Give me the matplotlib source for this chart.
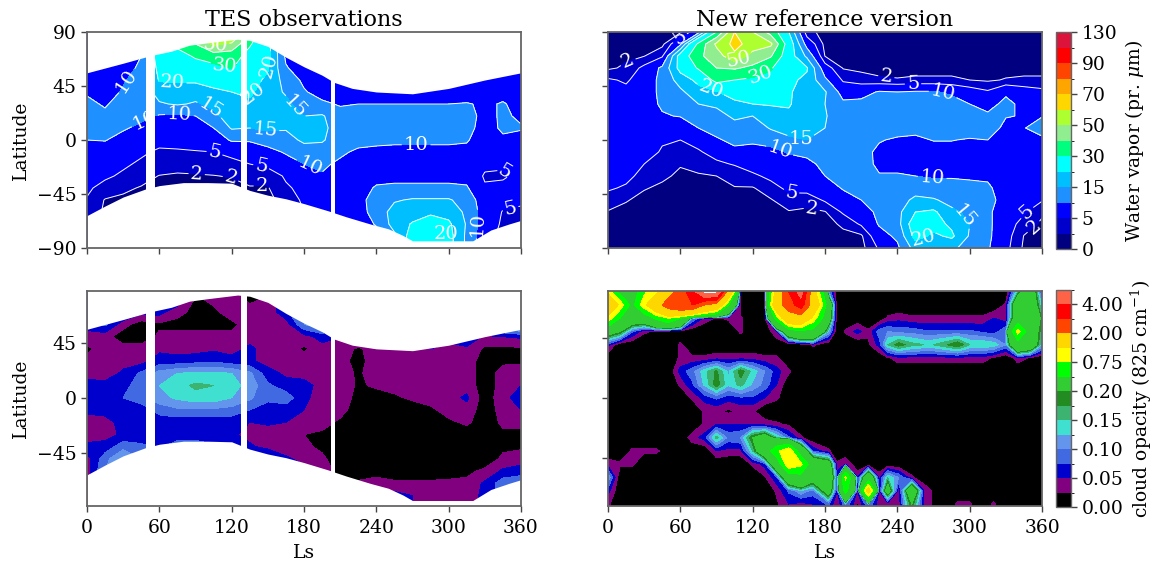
import matplotlib
matplotlib.use('Agg')
import matplotlib.pyplot as plt
from matplotlib.colors import BoundaryNorm, ListedColormap
import numpy as np

plt.rcParams['font.family'] = ['DejaVu Serif']
plt.rcParams['mathtext.fontset'] = 'dejavuserif'

wv_levels = [0, 2, 5, 10, 15, 20, 30, 40, 50, 60, 70, 80, 90, 110, 130]
wv_colors = ['navy', 'mediumblue', 'blue', 'dodgerblue', 'deepskyblue', 'cyan', 'springgreen',
             'lightgreen', 'greenyellow', 'gold', 'orange', 'orangered', 'red', 'crimson']
wv_ticks = [0, 5, 15, 30, 50, 70, 90, 130]

cl_levels = [0, 0.025, 0.05, 0.075, 0.10, 0.125, 0.15, 0.175, 0.20, 0.5, 0.75, 1.0, 2.0, 3.0, 4.0, 5.0]
cl_colors = ['black', 'purple', 'mediumblue', 'royalblue', 'cornflowerblue', 'turquoise', 'mediumseagreen',
             'forestgreen', 'limegreen', 'lime', 'yellow', 'gold', 'orangered', 'red', 'tomato']
cl_ticks = [0, 0.05, 0.10, 0.15, 0.20, 0.75, 2.0, 4.0]

lat = [90, 80, 70, 60, 50, 40, 30, 20, 10, 0, -10, -20, -30, -40, -50, -60, -70, -80, -90]
ls = [0, 15, 30, 45, 60, 75, 90, 105, 120, 135, 150, 165, 180, 195, 210, 225, 240, 255, 270, 285, 300, 315, 330, 345, 360]

# TES coverage limits and orbit gaps
north_ls = [0, 15, 30, 48, 56, 70, 85, 100, 125, 135, 150, 165, 180, 195, 205, 220, 240, 270, 300, 330, 360]
north_lat = [56, 60, 64, 69, 71, 74, 79, 81, 84, 83, 78, 69, 61, 54, 48, 43, 40, 38.5, 43, 50, 56]
south_ls = [0, 15, 30, 48, 60, 80, 100, 120, 125, 135, 150, 165, 180, 200, 215, 235, 250, 262, 270, 320, 335, 350, 360]
south_lat = [-63, -55, -47.5, -41, -38, -35.5, -35.5, -36, -38, -42, -46, -49, -53, -59, -64, -70, -74, -79.5, -84, -84, -75, -70, -67]
gaps = [(48.7, 56.4), (127.6, 133), (202.3, 206)]

# one list per Ls, latitude from north to south
tes_wv = [
    [6, 6, 6, 6, 7, 9.5, 11, 12, 12, 10, 8, 7, 6, 5.5, 4.8, 4, 3, 3, 3],
    [6, 6, 6, 7, 8, 8, 9.5, 11, 12, 10.2, 8, 6.5, 5.5, 4, 1.8, 1.5, 1.5, 1.5, 1.5],
    [8, 8, 8, 8, 9.5, 10.5, 12, 12, 10.5, 8.5, 7, 5.5, 4.5, 2.5, 1.5, 1, 1, 1, 1],
    [10, 10, 10, 11, 12, 12, 13, 11, 9, 8, 5.5, 4.5, 3, 1.8, 1, 1, 1, 1, 1],
    [25, 25, 24, 22, 20.5, 17, 14.5, 9.5, 8, 6, 4.5, 3.5, 1.9, 1, 1, 1, 1, 1, 1],
    [45, 34, 24, 22, 21, 17, 15.5, 9, 8, 6.5, 4.5, 2.6, 1.8, 1, 1, 1, 1, 1, 1],
    [60, 40, 32, 23, 21, 17, 14.5, 10, 8.5, 6.5, 4.8, 3, 1.8, 1, 1, 1, 1, 1, 1],
    [75, 52, 35, 27, 22, 19, 16, 14, 10, 7.5, 5, 3.5, 1.9, 1, 1, 1, 1, 1, 1],
    [70, 48, 34, 30.5, 24, 20, 19, 17, 15.5, 10.5, 6, 4, 2.2, 1, 1, 1, 1, 1, 1],
    [40, 31, 27, 24, 22, 21, 19, 15.5, 15, 10.5, 7, 5, 3, 1.8, 1, 1, 1, 1, 1],
    [20, 22, 22, 20.5, 19, 17, 16.5, 17, 16, 12, 8.5, 6, 3, 1.8, 1, 1, 1, 1, 1],
    [8, 8, 9, 10.5, 13, 14.5, 16, 16, 15.5, 13, 10.5, 8, 5.5, 4.5, 3.5, 3, 3, 3, 3],
    [5, 5, 5.5, 7, 9, 10.5, 13, 15, 17, 16, 12.5, 10, 7.5, 6, 5.5, 5, 5, 5, 5],
    [6, 6, 6, 6, 6.5, 8, 11, 15.5, 16, 15.5, 13, 11, 9.5, 7, 6.5, 6, 6, 6, 6],
    [5.5, 5.5, 5.5, 5.5, 5.5, 7, 9.5, 12, 13, 12.5, 11, 9, 7, 7, 7, 6.5, 6, 6, 6],
    [6.5, 6.5, 6.5, 6.5, 6.5, 6.5, 10, 13, 13.5, 12, 9, 7.5, 7, 8, 8.5, 8, 7, 7, 7],
    [6, 6, 6, 6, 6, 6, 10, 13, 13.5, 11.5, 8.5, 7.5, 8.5, 10.5, 12, 12, 10.5, 8, 8],
    [6, 6, 6, 6, 6, 6, 10, 13, 13.5, 11, 8.5, 7.5, 8.5, 11, 14.5, 17, 17, 14, 14],
    [6, 6, 6, 6, 6, 6, 10, 13, 13.5, 11, 8.5, 7.5, 8.5, 11, 15.5, 17.5, 20.5, 23, 23],
    [6, 6, 6, 6, 6, 6, 10, 13, 13.5, 11, 8.5, 7.5, 8.5, 11, 15.5, 19, 23, 24, 24],
    [6, 6, 6, 6, 6, 6, 10, 13, 13.5, 11, 8.5, 7.5, 8.5, 11, 15.5, 18, 21, 22, 22],
    [6, 6, 6, 6, 6, 6, 10.5, 12.5, 12, 10.5, 8.5, 7, 8.5, 10.5, 13, 14, 14.5, 14, 14],
    [7, 7, 7, 7, 7, 7.5, 9, 8, 7.5, 7, 6.5, 6, 4.5, 5.5, 7, 7.5, 7, 6.5, 6.5],
    [7, 7, 7, 7, 7, 8, 10.5, 11, 11, 9, 7, 5.5, 4.5, 6, 6, 4.8, 4.5, 4, 4],
    [7, 7, 7, 7, 7, 8, 8, 9, 10.5, 8, 7.5, 6.5, 6, 5.5, 5.5, 4.5, 3.5, 3, 3],
]

new_wv = [
    [.5, .5, .7, 1.5, 5.5, 7, 7.5, 8, 8, 8, 8, 7.5, 7, 5.5, 3.5, 1.8, 1, .8, .7],
    [.5, .7, 1.5, 2.5, 4.5, 6, 7, 7.5, 7.5, 7.5, 7, 6.5, 6, 4.5, 2.2, 1.2, .8, .7, .7],
    [.7, 1, 1.9, 6, 7, 8, 8.5, 8.5, 8, 7.5, 7, 5, 3.8, 2.2, 1.2, .8, .7, .7, .7],
    [.8, 1.2, 4.5, 11, 11.5, 11, 10.5, 9.7, 8, 5.5, 4.5, 3.5, 2.5, 1.5, 1, .8, .7, .7, .7],
    [1.5, 9, 23, 22, 17, 14, 12.5, 10.2, 7.5, 5, 3.8, 2.2, 1.5, 1, .8, .7, .7, .7, .7],
    [8, 32, 38, 31, 21.5, 18, 15, 12, 10, 6, 4.7, 3, 1.7, 1, .8, .7, .7, .7, .7],
    [30, 52, 45, 40, 33, 19.5, 16, 13, 11.5, 9.5, 6, 4.5, 2, 1, .8, .7, .7, .7, .7],
    [60, 63, 58, 41, 30, 24, 18, 16, 13, 11, 9, 5.2, 3.5, 1.8, 1, .8, .7, .7, .7],
    [50, 56, 46, 38, 28, 23, 20, 15, 12.5, 10.5, 9, 7, 4.2, 1.8, 1, .8, .7, .7, .7],
    [36, 52, 41, 31, 27, 23, 20.5, 17, 15.4, 12, 8.5, 7, 6, 3.5, 1.8, 1, .8, .7, .7],
    [20, 24, 23, 21.5, 21, 20.5, 20.5, 19, 16, 14.5, 10.5, 7.5, 6.5, 6, 3.5, 1.8, 1, .8, .7],
    [3, 8, 14, 20.5, 19, 18, 17, 16, 16, 15, 11, 9, 7.5, 6.5, 3, 1.5, 1, .8, .7],
    [1, 1.2, 1.9, 7, 11, 15.5, 15, 15.2, 15, 14, 12, 11, 10, 7, 5.5, 1.8, 1, .8, .7],
    [.7, .7, .8, 1.8, 4.5, 8, 11, 13.5, 14.5, 14, 13, 12.5, 12, 10.5, 7.5, 5.5, 2.5, 1.3, 1],
    [.6, .6, .7, 1.2, 3.5, 8, 11.5, 13, 13.5, 12, 12.5, 13, 12.5, 11.5, 10, 8, 5.5, 1.5, 1],
    [.6, .6, .7, 1, 2.5, 10.5, 13, 13.5, 12.5, 10.5, 8.5, 8.5, 10.5, 11.5, 12, 11, 10.5, 8, 5.5],
    [.6, .6, .7, 1, 2.2, 10, 12.5, 14, 13, 9, 8, 8.5, 10.5, 12, 13, 13.5, 13, 11, 9],
    [.6, .6, .7, 1, 2.5, 10.5, 13, 13.5, 11.5, 9, 8, 8, 10, 13, 16, 20, 24, 22, 17],
    [.6, .6, .7, 1, 2.5, 10.5, 13, 13, 11, 10.2, 8, 8, 9.5, 12, 15.5, 21, 22, 19, 15],
    [.6, .6, .7, 1, 2.5, 9, 12.5, 13, 11.5, 10.2, 8, 7.5, 9.5, 12, 13.5, 16, 19, 21, 16],
    [.6, .6, .7, 1, 2, 7, 10, 13, 13, 9.5, 8, 7.5, 9, 12, 13, 14, 15, 14.5, 13],
    [.6, .6, .7, 1, 1.6, 5.5, 8, 11, 12, 10, 8, 7.5, 9, 11, 12.5, 11, 11, 11, 10.5],
    [.6, .6, .7, 1, 2.2, 9, 11.5, 10.2, 9, 8, 7.5, 7, 7, 7, 7, 7, 7, 6.5, 6],
    [.6, .6, .7, 1, 2.5, 7, 8.5, 9.8, 9.8, 8, 7.5, 7, 7, 6.5, 6, 5.5, 3.5, 1.9, 1.5],
    [.6, .6, .7, 1, 2.5, 6, 8, 9.8, 12, 9, 8, 7.5, 7, 6.5, 5.3, 2.5, 1.5, 1, .8],
]

tes_cl = [
    [.06, .06, .06, .06, .04, .02, .03, .04, .06, .065, .06, .03, .03, .06, .04, .04, .04, .04, .04],
    [.08, .08, .08, .08, .035, .035, .035, .035, .06, .065, .06, .04, .04, .06, .09, .1, .1, .1, .1],
    [.08, .08, .08, .035, .01, .035, .04, .055, .065, .075, .06, .06, .055, .09, .13, .13, .13, .13, .13],
    [.06, .06, .06, .01, .01, .035, .04, .08, .09, .09, .06, .055, .06, .08, .1, .1, .1, .1, .1],
    [.1, .1, .06, .02, .03, .045, .06, .11, .125, .115, .085, .06, .055, .07, .1, .1, .1, .1, .1],
    [.1, .07, .03, .02, .03, .04, .06, .125, .14, .13, .095, .06, .06, .09, .1, .1, .1, .1, .1],
    [.03, .02, .02, .02, .03, .04, .065, .13, .155, .14, .095, .06, .06, .09, .1, .1, .1, .1, .1],
    [.05, .03, .02, .02, .03, .045, .07, .13, .15, .14, .095, .06, .06, .08, .1, .1, .1, .1, .1],
    [.04, .04, .035, .02, .03, .04, .06, .125, .135, .125, .09, .06, .055, .06, .1, .1, .1, .1, .1],
    [.02, .02, .035, .035, .04, .055, .055, .105, .115, .105, .075, .05, .04, .055, .1, .1, .1, .1, .1],
    [.03, .03, .03, .035, .03, .04, .04, .06, .08, .08, .065, .055, .035, .04, .09, .09, .09, .09, .09],
    [.07, .07, .07, .035, .04, .04, .035, .045, .06, .09, .06, .05, .035, .035, .055, .055, .055, .055, .055],
    [.1, .1, .1, .1, .04, .02, .04, .04, .06, .055, .05, .035, .025, .03, .04, .06, .06, .06, .06],
    [.12, .12, .12, .12, .06, .04, .04, .04, .04, .04, .035, .035, .02, .02, .03, .05, .05, .05, .05],
    [.07, .07, .07, .07, .05, .04, .035, .04, .045, .05, .035, .02, .01, .01, .01, .01, .03, .03, .03],
    [.06, .06, .06, .06, .06, .02, .015, .02, .02, .01, .01, .01, .01, .01, .01, .01, .03, .05, .05],
    [.07, .07, .07, .07, .07, .04, .04, .04, .03, .01, .01, .01, .01, .01, .01, .01, .04, .06, .06],
    [.06, .06, .06, .06, .06, .04, .035, .035, .035, .02, .01, .01, .01, .01, .01, .01, .03, .06, .06],
    [.06, .06, .06, .06, .06, .05, .04, .04, .04, .03, .01, .01, .01, .01, .01, .01, .03, .05, .05],
    [.06, .06, .06, .06, .06, .05, .04, .04, .04, .035, .02, .01, .01, .01, .01, .01, .03, .035, .035],
    [.055, .055, .055, .055, .055, .045, .04, .04, .04, .04, .035, .02, .01, .01, .01, .015, .03, .04, .04],
    [.07, .07, .07, .07, .07, .045, .04, .04, .04, .055, .04, .03, .01, .01, .01, .02, .03, .04, .04],
    [.1, .1, .1, .1, .045, .02, .01, .01, .01, .01, .01, .01, .01, .01, .01, .03, .055, .055, .055],
    [.13, .13, .13, .13, .05, .02, .02, .035, .035, .04, .035, .03, .02, .02, .03, .055, .09, .09, .09],
    [.16, .16, .16, .16, .055, .02, .02, .04, .05, .065, .05, .03, .02, .02, .04, .06, .1, .1, .1],
]

# model cloud field: uneven Ls spacing for the narrow southern storms, one list per latitude
new_cl_ls = [0, 10, 20, 30, 40, 50, 60, 70, 80, 90, 100, 110, 120, 130, 140, 150, 160, 170, 183, 190, 197, 207, 216,
             225, 232, 241, 252, 262, 270, 280, 290, 300, 310, 320, 330, 340, 350, 360]
new_cl = [
    [.9, .4, .3, .7, .9, 1.5, 2.5, 3.5, 5.5, 5.5, 1.5, 0, 0, 0, 1.2, 3, 4.5, 1.2] + [.1] + [0] * 16 + [.15, .3, .05],
    [.9, .4, .3, .7, .9, 1.5, 2.5, 3.5, 5.5, 5.5, 1.5, 0, 0, 0, 1.2, 3, 4.5, 1.2] + [.1] + [0] * 16 + [.15, .3, .05],
    [1.5, .9, .4, .9, 1.5, 2.5, 3, 3, 2, 1.5, .5, 0, 0, 0, 1.5, 2.5, 3.5, 1.5] + [.3] + [0] * 15 + [.03, .3, .3, .12],
    [.9, .5, .3, .3, .55, .75, .5, .1, .04, .02, .03, .03, 0, 0, .6, 1.5, 1.5, .9, .25, 0, 0, 0, 0, 0, .03, .04, .03, .03,
     .03, .03, .03, .03, .03, .05, .03, .3, .5, .15],
    [.25, .2, .08, .03, .02, 0, 0, 0, 0, 0, 0, .03, 0, 0, .05, .3, .45, .4, .12, 0, .03, .06, .03, .09, .1, .09, .09, .08,
     .08, .08, .08, .08, .07, .06, .1, .85, .3, .15],
    [.06, 0, 0, 0, 0, 0, .03] + [0] * 10 + [.03] + [0, 0, 0, 0, .02, .06, .15, .19, .16, .15,
     .15, .17, .2, .15, .15, .14, .1, .35, .3, .12],
    [0] * 6 + [.03, .03, .03, .04, .04, .04, .04, .03, .03, 0, 0, 0] + [0, 0, 0, 0, 0, 0, .02, .04, .04, .04,
     .04, .04, .04, .04, .04, .02, 0, .04, .02, 0],
    [0] * 6 + [.06, .09, .14, .18, .12, .19, .14, .1, .06, .03, 0, 0] + [0] * 20,
    [0] * 6 + [.03, .07, .13, .19, .13, .16, .12, .09, .05, 0, 0, 0] + [0] * 20,
    [0] * 7 + [.03, .06, .08, .06, .07, .07, .05, .03, 0, 0, 0] + [0] * 20,
    [0] * 8 + [.03, .03, .02, .03, .03, 0, 0, 0, 0, 0] + [0] * 20,
    [0] * 8 + [.03, .05, .05, .05, .05, .04, .03, .02, 0, 0] + [0] * 20,
    [0] * 7 + [.04, .06, .16, .09, .1, .2, .25, .15, .08, .03, 0] + [0] * 20,
    [0, 0, .03, .03, .03, .01, 0, 0, 0, .05, .04, .04, .15, .3, .7, .95, .3, .07, .03] + [0] * 19,
    [.04, .03, .03] + [0] * 9 + [.03, .06, .3, .95, .8, .3, .25, .03, .05] + [0] * 17,
    [.12] + [0] * 12 + [.02, .07, .3, .4, .25, .3, .07, .8, .05, .3, .04, .15, .1, .03, 0] + [0] * 10,
    [.06] + [0] * 12 + [0, .03, .08, .12, .09, .25, .05, .6, .04, 1.2, .04, .25, .03, .3, .05, .02] + [0] * 9,
    [.03] + [0] * 13 + [.02, .05, .04, .05, .08, .02, .1, .02, .1, .03, .03, .03, .2, .04, .02, 0, .03, .03, 0, .03, 0, 0, 0, 0],
    [.03] + [0] * 13 + [.02, .05, .04, .05, .08, .02, .1, .02, .1, .03, .03, .03, .2, .04, .02, 0, .03, .03, 0, .03, 0, 0, 0, 0],
]

tes_labels = {
    2: [(91, -28), (120, -27), (145, -29)],
    5: [(107, -7), (145, -20), (188, 48), (348, -25), (351, -56)],
    10: [(32.6, 49.7), (43.7, 24.7), (77, 25), (185, -21), (273, -4.5), (323, -70)],
    15: [(103, 27.5), (147, 4), (170, 25)],
    20: [(71, 52.5), (152, 62), (138, 38.6)],
    30: [(114, 61)],
    50: [(107, 75)],
}
new_labels = {
    2: [(16.6, 65), (170, -52), (231, 54), (352, -71)],
    5: [(61, 83), (152, -38), (253, 47.5), (346, -59)],
    10: [(143, -7), (277, 36), (269, -31)],
    15: [(161, 4), (296, -63)],
    20: [(87, 47), (262, -83)],
    30: [(126, 55)],
    50: [(108, 68)],
}

W, H = 1157.0, 563.0


def make_axes(x0, x1, y0, y1):
    return fig.add_axes([x0 / W, 1 - y1 / H, (x1 - x0) / W, (y1 - y0) / H])


def style_axes(ax, ylim, yticks, xlabels):
    ax.set_xlim(0, 360)
    ax.set_ylim(*ylim)
    ax.set_xticks(np.arange(0, 361, 60))
    ax.set_yticks(yticks)
    if xlabels:
        ax.set_xlabel('Ls', fontsize=13.5, labelpad=5)
    else:
        ax.set_xticklabels([])
    ax.tick_params(labelsize=13.5, length=4, width=1, color='#444444')
    ax.tick_params(axis='x', pad=5.5)
    for s in ax.spines.values():
        s.set_color('#666666')
        s.set_linewidth(1.3)
        s.set_zorder(6)


def mask_coverage(ax):
    ax.fill_between(north_ls, north_lat, 100, color='white', lw=0, zorder=2.5)
    ax.fill_between(south_ls, south_lat, -100, color='white', lw=0, zorder=2.5)
    for g in gaps:
        ax.axvspan(g[0], g[1], color='white', lw=0, zorder=2.5)


def draw_lines(ax, x, y, z, labels):
    # one contour set per level, clabel with manual spots breaks on a subset of levels
    for lev in wv_levels[1:]:
        if np.max(z) < lev:
            continue
        cs = ax.contour(x, y, z, levels=[lev], colors='white', linewidths=0.7)
        if lev in labels:
            ax.clabel(cs, manual=labels[lev], fmt='%d', fontsize=14, colors='white', inline_spacing=2)


wv_cmap = ListedColormap(wv_colors)
wv_norm = BoundaryNorm(wv_levels, wv_cmap.N)
cl_cmap = ListedColormap(cl_colors)
cl_norm = BoundaryNorm(cl_levels, cl_cmap.N)

fig = plt.figure(figsize=(W / 100, H / 100), dpi=100)

ax1 = make_axes(87, 521, 32, 248)
ax2 = make_axes(608, 1042, 32, 248)
ax3 = make_axes(87, 521, 291, 506)
ax4 = make_axes(608, 1042, 291, 506)
cax1 = make_axes(1056, 1071, 32, 249)
cax2 = make_axes(1056, 1071, 290, 507)

style_axes(ax1, (-90, 90), [-90, -45, 0, 45, 90], False)
style_axes(ax2, (-90, 90), [-90, -45, 0, 45, 90], False)
style_axes(ax3, (-88.5, 87.3), [-45, 0, 45], True)
style_axes(ax4, (-81.5, 80.5), [-45, 0, 45], True)
ax2.set_yticklabels([])
ax4.set_yticklabels([])
ax1.set_ylabel('Latitude', fontsize=13.5, labelpad=5)
ax3.set_ylabel('Latitude', fontsize=13.5, labelpad=5)
ax1.set_title('TES observations', fontsize=16, pad=4)
ax2.set_title('New reference version', fontsize=16, pad=4)

z1 = np.array(tes_wv).T
cf1 = ax1.contourf(ls, lat, z1, levels=wv_levels, cmap=wv_cmap, norm=wv_norm)
draw_lines(ax1, ls, lat, z1, tes_labels)
mask_coverage(ax1)
ax1.text(298, -78, '20', color='white', fontsize=14, ha='center', va='center', zorder=5)

z2 = np.array(new_wv).T
cf2 = ax2.contourf(ls, lat, z2, levels=wv_levels, cmap=wv_cmap, norm=wv_norm)
draw_lines(ax2, ls, lat, z2, new_labels)

z3 = np.array(tes_cl).T
cf3 = ax3.contourf(ls, lat, z3, levels=cl_levels, cmap=cl_cmap, norm=cl_norm)
mask_coverage(ax3)

z4 = np.array(new_cl)
cf4 = ax4.contourf(new_cl_ls, lat, z4, levels=cl_levels, cmap=cl_cmap, norm=cl_norm)

cb1 = fig.colorbar(cf2, cax=cax1, ticks=wv_ticks, spacing='uniform')
cb1.ax.set_yticklabels([str(t) for t in wv_ticks])
cb1.set_label('Water vapor (pr. $\\mu$m)', fontsize=13.5, labelpad=4)
cb2 = fig.colorbar(cf4, cax=cax2, ticks=cl_ticks, spacing='uniform')
cb2.ax.set_yticklabels(['%.2f' % t for t in cl_ticks])
cb2.set_label('cloud opacity (825 cm$^{-1}$)', fontsize=13.5, labelpad=4)
for cb in (cb1, cb2):
    cb.ax.tick_params(labelsize=13.5, length=4, width=1, color='#444444')
    cb.outline.set_edgecolor('#666666')
    cb.outline.set_linewidth(1)

plt.savefig('out.png', dpi=100)
